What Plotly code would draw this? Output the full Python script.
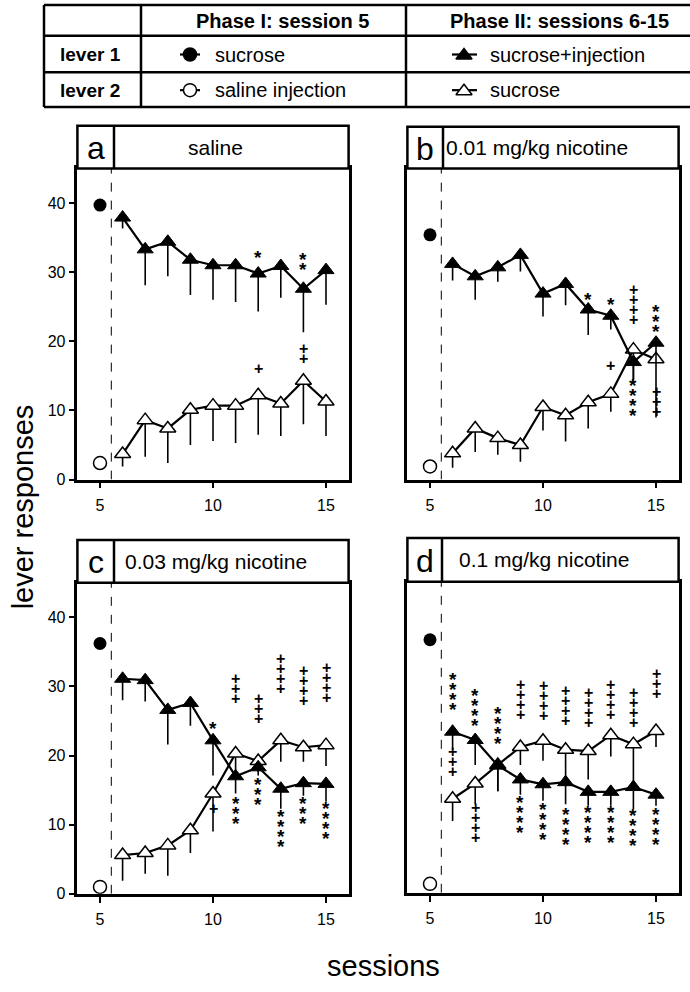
import plotly.graph_objects as go

# ---------------- data ----------------
sessions = [6, 7, 8, 9, 10, 11, 12, 13, 14, 15]
phase1_session = [5]
panel_letters = ["a", "b", "c", "d"]
panel_titles = ["saline", "0.01 mg/kg nicotine", "0.03 mg/kg nicotine", "0.1 mg/kg nicotine"]

# Phase I (session 5): lever 1 (sucrose), lever 2 (saline injection)
p1_lever1 = [39.7, 35.4, 36.2, 36.6]
p1_lever2 = [2.4, 1.9, 1.0, 1.3]

# Phase II, lever 1 (sucrose+injection) means and lower SEM
a_l1 = [37.9, 33.3, 34.4, 31.8, 31.0, 31.0, 29.8, 30.9, 27.6, 30.3]
a_l1_err = [1.6, 5.2, 5.0, 5.1, 5.0, 5.3, 5.5, 4.6, 6.3, 5.0]
b_l1 = [31.2, 29.4, 30.7, 32.5, 26.9, 28.3, 24.6, 23.7, 17.0, 19.8]
b_l1_err = [2.4, 3.4, 2.1, 2.4, 3.3, 3.1, 3.7, 2.0, 2.5, 3.0]
c_l1 = [31.1, 30.9, 26.6, 27.6, 22.2, 17.0, 18.3, 15.2, 16.0, 15.9]
c_l1_err = [3.1, 3.1, 5.0, 3.3, 5.1, 2.5, 1.2, 2.9, 1.8, 2.6]
d_l1 = [23.3, 22.1, 18.4, 16.4, 15.7, 16.0, 14.6, 14.6, 15.3, 14.2]
d_l1_err = [2.6, 3.6, 3.7, 2.2, 2.4, 3.2, 2.0, 2.0, 3.2, 1.6]

# Phase II, lever 2 (sucrose) means and lower SEM
a_l2 = [3.7, 8.6, 7.4, 10.1, 10.7, 10.7, 12.2, 11.0, 14.3, 11.3]
a_l2_err = [1.8, 5.3, 5.0, 5.1, 5.1, 5.4, 5.7, 4.7, 6.3, 5.0]
b_l2 = [3.8, 7.4, 6.0, 5.0, 10.5, 9.3, 11.2, 12.4, 18.8, 17.4]
b_l2_err = [2.1, 3.4, 2.4, 2.4, 3.4, 3.8, 3.8, 2.6, 4.5, 8.4]
c_l2 = [5.6, 5.9, 7.0, 9.2, 14.5, 20.3, 19.2, 22.2, 21.2, 21.5]
c_l2_err = [3.7, 3.0, 4.4, 3.3, 5.5, 3.2, 1.5, 3.1, 2.1, 3.0]
d_l2 = [13.6, 15.8, 18.5, 21.1, 22.0, 20.7, 20.5, 22.8, 21.5, 23.4]
d_l2_err = [3.2, 3.0, 3.8, 2.6, 2.9, 4.3, 4.1, 3.1, 5.8, 2.3]

# significance marks: (session, y of top symbol, stacked symbols)
a_sig = [(12, 32.9, "*"), (14, 32.5, "**"), (12, 16.0, "+"), (14, 19.0, "++")]
b_sig = [(12, 26.7, "*"), (13, 26.0, "*"), (14, 27.5, "++++"), (15, 25.0, "***"),
         (13, 16.5, "+"), (14, 14.3, "****"), (15, 12.7, "+++")]
c_sig = [(10, 24.6, "*"), (10, 12.3, "+"), (11, 31.1, "+++"), (11, 13.8, "***"),
         (12, 28.3, "+++"), (12, 16.6, "***"), (13, 34.0, "++++"), (13, 11.9, "****"),
         (14, 32.3, "++++"), (14, 13.8, "***"), (15, 32.8, "++++"), (15, 13.0, "****")]
d_sig = [(6, 31.6, "****"), (6, 20.4, "+++"), (7, 29.2, "****"), (7, 12.3, "++++"),
         (8, 26.7, "****"), (9, 30.2, "++++"), (9, 13.8, "****"), (10, 30.0, "++++"),
         (10, 12.8, "****"), (11, 29.2, "++++"), (11, 12.1, "****"), (12, 29.0, "++++"),
         (12, 12.3, "****"), (13, 30.2, "++++"), (13, 12.3, "****"), (14, 29.0, "++++"),
         (14, 11.9, "****"), (15, 31.7, "+++"), (15, 12.1, "****")]

x_ticks = [5, 10, 15]
y_ticks = [0, 10, 20, 30, 40]

lever1_series = [a_l1, b_l1, c_l1, d_l1]
lever1_errs = [a_l1_err, b_l1_err, c_l1_err, d_l1_err]
lever2_series = [a_l2, b_l2, c_l2, d_l2]
lever2_errs = [a_l2_err, b_l2_err, c_l2_err, d_l2_err]
sig_marks = [a_sig, b_sig, c_sig, d_sig]

# ---------------- layout helpers ----------------
W, H = 690, 992
FONT = "Liberation Sans, Arial, Helvetica, sans-serif"


def px(x):
    return x / W


def py(y):
    return 1 - y / H


# panel boxes in pixels: (left, right, plot top, plot bottom, header top, divider x)
panels = [
    (77.4, 348.6, 170, 484, 127, 114),
    (407.4, 678.6, 170, 484, 128, 443),
    (77.4, 348.6, 588, 902, 545, 114),
    (407.4, 678.6, 587, 901, 543, 442),
]
title_cx = [215, 537, 216, 544]

fig = go.Figure()
shapes = []
annotations = []

for i, (l, r, t, b, ht, dx) in enumerate(panels):
    n = "" if i == 0 else str(i + 1)
    xa, ya = "x" + n, "y" + n
    lay_x = dict(domain=[px(l), px(r)], range=[4, 16], tickvals=x_ticks, ticks="outside",
                 ticklen=6, tickwidth=2, tickcolor="black", showline=True, linewidth=2.5,
                 linecolor="black", mirror=True, showgrid=False, zeroline=False,
                 ticklabelstandoff=3,
                 tickfont=dict(family=FONT, size=16, color="black"), anchor=ya)
    show_y = i in (0, 2)
    lay_y = dict(domain=[py(b), py(t)], range=[0, 45], tickvals=y_ticks,
                 ticks="outside" if show_y else "", ticklen=6, tickwidth=2, tickcolor="black",
                 showticklabels=show_y, showline=True, linewidth=2.5, linecolor="black",
                 mirror=True, showgrid=False, zeroline=False,
                 tickfont=dict(family=FONT, size=16, color="black"), anchor=xa)
    fig.layout["xaxis" + n] = lay_x
    fig.layout["yaxis" + n] = lay_y

    # lever 2 (open triangles)
    fig.add_trace(go.Scatter(
        x=sessions, y=lever2_series[i], xaxis=xa, yaxis=ya, mode="lines+markers",
        line=dict(color="black", width=2.2),
        marker=dict(symbol="triangle-up", size=14, color="white", line=dict(color="black", width=1.5)),
        error_y=dict(type="data", symmetric=False, array=[0] * len(sessions),
                     arrayminus=lever2_errs[i], width=0, thickness=1.6, color="black"),
        showlegend=False, hoverinfo="skip"))
    # lever 1 (filled triangles)
    fig.add_trace(go.Scatter(
        x=sessions, y=lever1_series[i], xaxis=xa, yaxis=ya, mode="lines+markers",
        line=dict(color="black", width=2.2),
        marker=dict(symbol="triangle-up", size=14, color="black", line=dict(color="black", width=1)),
        error_y=dict(type="data", symmetric=False, array=[0] * len(sessions),
                     arrayminus=lever1_errs[i], width=0, thickness=1.6, color="black"),
        showlegend=False, hoverinfo="skip"))
    # phase I points
    fig.add_trace(go.Scatter(
        x=phase1_session, y=[p1_lever1[i]], xaxis=xa, yaxis=ya, mode="markers",
        marker=dict(symbol="circle", size=13, color="black"), showlegend=False, hoverinfo="skip"))
    fig.add_trace(go.Scatter(
        x=phase1_session, y=[p1_lever2[i]], xaxis=xa, yaxis=ya, mode="markers",
        marker=dict(symbol="circle", size=13, color="white", line=dict(color="black", width=1.5)),
        showlegend=False, hoverinfo="skip"))

    # dashed phase separator
    shapes.append(dict(type="line", xref=xa, yref=ya, x0=5.5, x1=5.5, y0=0, y1=45,
                       line=dict(color="black", width=1, dash="dash")))
    # header box
    shapes.append(dict(type="rect", xref="paper", yref="paper", x0=px(l), x1=px(r),
                       y0=py(t), y1=py(ht), line=dict(color="black", width=2.5),
                       fillcolor="white"))
    shapes.append(dict(type="line", xref="paper", yref="paper", x0=px(dx), x1=px(dx),
                       y0=py(t), y1=py(ht), line=dict(color="black", width=2.5)))
    annotations.append(dict(xref="paper", yref="paper", x=px((l + dx) / 2), y=py((t + ht) / 2 + 1),
                            text=panel_letters[i], showarrow=False, xanchor="center",
                            yanchor="middle", font=dict(family=FONT, size=32, color="black")))
    annotations.append(dict(xref="paper", yref="paper", x=px(title_cx[i]), y=py((t + ht) / 2),
                            text=panel_titles[i], showarrow=False, xanchor="center",
                            yanchor="middle", font=dict(family=FONT, size=21, color="black")))

    # significance symbols, stacked downward
    for (s, yv, txt) in sig_marks[i]:
        for k, ch in enumerate(txt):
            annotations.append(dict(xref=xa, yref=ya, x=s, y=yv, text="<b>%s</b>" % ch,
                                    showarrow=False, opacity=0.99,
                                    xanchor="center", yanchor="middle",
                                    yshift=-k * 10 - (5 if ch == "*" else 0),
                                    font=dict(family=FONT, size=19 if ch == "*" else 16,
                                              color="black")))

# ---------------- top table ----------------
tl, tr = 44, 700
rows_y = [5, 36, 73, 108]
cols_x = [44, 141, 406]
for y in rows_y:
    shapes.append(dict(type="line", xref="paper", yref="paper", x0=px(tl), x1=px(tr),
                       y0=py(y), y1=py(y), line=dict(color="black", width=2.5)))
for x in cols_x:
    shapes.append(dict(type="line", xref="paper", yref="paper", x0=px(x), x1=px(x),
                       y0=py(rows_y[0]), y1=py(rows_y[-1]), line=dict(color="black", width=2.5)))

table_headers = ["Phase I: session 5", "Phase II: sessions 6-15"]
row_labels = ["lever 1", "lever 2"]
phase1_labels = ["sucrose", "saline injection"]
phase2_labels = ["sucrose+injection", "sucrose"]

for cx, txt in zip([282, 559], table_headers):
    annotations.append(dict(xref="paper", yref="paper", x=px(cx), y=py(21), text="<b>%s</b>" % txt,
                            showarrow=False, xanchor="center", yanchor="middle",
                            font=dict(family=FONT, size=20, color="black")))
row_cy = [55, 91]
for cy, txt in zip(row_cy, row_labels):
    annotations.append(dict(xref="paper", yref="paper", x=px(90), y=py(cy), text="<b>%s</b>" % txt,
                            showarrow=False, xanchor="center", yanchor="middle",
                            font=dict(family=FONT, size=19, color="black")))
for cy, t1, t2 in zip(row_cy, phase1_labels, phase2_labels):
    annotations.append(dict(xref="paper", yref="paper", x=px(213), y=py(cy), text=t1,
                            showarrow=False, xanchor="left", yanchor="middle",
                            font=dict(family=FONT, size=20, color="black")))
    annotations.append(dict(xref="paper", yref="paper", x=px(488), y=py(cy), text=t2,
                            showarrow=False, xanchor="left", yanchor="middle",
                            font=dict(family=FONT, size=20, color="black")))

# legend symbols drawn on a hidden pixel-space overlay axis
fig.layout["xaxis5"] = dict(domain=[0, 1], range=[0, W], visible=False, anchor="y5", fixedrange=True)
fig.layout["yaxis5"] = dict(domain=[0, 1], range=[H, 0], visible=False, anchor="x5", fixedrange=True)
legend_items = [
    (180, 200, 190, row_cy[0], "circle", "black"),
    (180, 200, 190, row_cy[1], "circle", "white"),
    (452, 477, 464, row_cy[0], "triangle-up", "black"),
    (452, 477, 464, row_cy[1], "triangle-up", "white"),
]
for x0, x1, xm, yc, sym, fc in legend_items:
    fig.add_trace(go.Scatter(x=[x0, x1], y=[yc, yc], xaxis="x5", yaxis="y5", mode="lines",
                             line=dict(color="black", width=2.2), showlegend=False, hoverinfo="skip"))
    fig.add_trace(go.Scatter(x=[xm], y=[yc + (1 if sym != "circle" else 0)], xaxis="x5", yaxis="y5",
                             mode="markers",
                             marker=dict(symbol=sym, size=14 if sym != "circle" else 13, color=fc,
                                         line=dict(color="black", width=1.5)),
                             showlegend=False, hoverinfo="skip"))

# axis titles
annotations.append(dict(xref="paper", yref="paper", x=px(23), y=py(512), text="lever responses",
                        textangle=-90, showarrow=False, xanchor="center", yanchor="middle",
                        font=dict(family=FONT, size=29, color="black")))
annotations.append(dict(xref="paper", yref="paper", x=px(383), y=py(975), text="sessions",
                        showarrow=False, xanchor="center", yanchor="middle",
                        font=dict(family=FONT, size=29, color="black")))

fig.update_layout(width=W, height=H, margin=dict(l=0, r=0, t=0, b=0),
                  paper_bgcolor="white", plot_bgcolor="rgba(0,0,0,0)",
                  shapes=shapes, annotations=annotations, showlegend=False)

fig.write_html("out.html", config={"displayModeBar": False},
               post_script="document.body.style.margin='0';document.documentElement.style.overflow='hidden';")
